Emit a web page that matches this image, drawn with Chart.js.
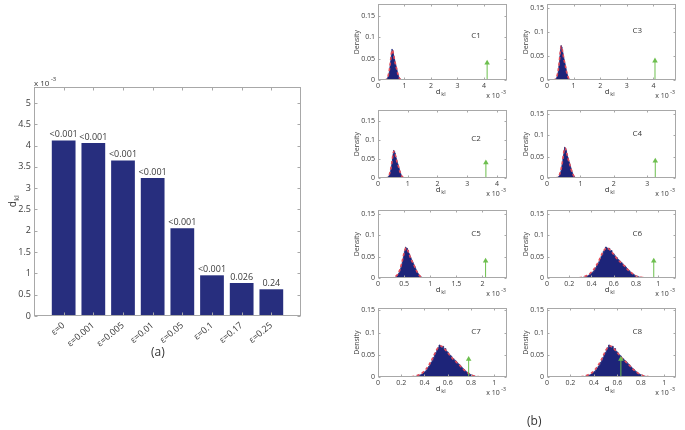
<!DOCTYPE html>
<html><head><meta charset="utf-8">
<script src="https://cdn.jsdelivr.net/npm/chart.js@4"></script>
<style>
html,body{margin:0;padding:0;background:#fff;width:685px;height:430px;overflow:hidden;position:relative;}
canvas{position:absolute;}
.cap{position:absolute;font-family:'Open Sans',sans-serif;font-size:12px;color:#333;line-height:14px;}
</style></head><body>
<canvas id="barA"></canvas>
<canvas id="p0"></canvas><canvas id="p1"></canvas><canvas id="p2"></canvas><canvas id="p3"></canvas>
<canvas id="p4"></canvas><canvas id="p5"></canvas><canvas id="p6"></canvas><canvas id="p7"></canvas>
<div class="cap" style="left:151px;top:345px">(a)</div>
<div class="cap" style="left:527px;top:414px">(b)</div>
<script>
// ---------- DATA ----------
const categories = ['ε=0','ε=0.001','ε=0.005','ε=0.01','ε=0.05','ε=0.1','ε=0.17','ε=0.25'];
const dklValues  = [4.12, 4.06, 3.65, 3.24, 2.06, 0.955, 0.775, 0.627];   // x 10^-3
const pLabels    = ['<0.001','<0.001','<0.001','<0.001','<0.001','<0.001','0.026','0.24'];
const barYTicksMax = 5.375;

const panelNames  = ['C1','C2','C3','C4','C5','C6','C7','C8'];
const observedDkl = [4.12, 3.63, 4.06, 3.24, 2.06, 0.96, 0.78, 0.63];
const panelXMax   = [4.87, 4.34, 4.85, 3.86, 2.47, 1.16, 1.11, 1.10];
const panelXStep  = [1, 1, 1, 1, 0.5, 0.2, 0.2, 0.2];
const panelYMax   = [0.177, 0.177, 0.158, 0.158, 0.158, 0.158, 0.155, 0.155];
const arrowHeight = 0.04;

const nullBins = [0.30,0.31,0.32,0.33,0.34,0.35,0.36,0.37,0.38,0.39,0.40,0.41,0.42,0.43,0.44,0.45,0.46,0.47,0.48,0.49,
  0.50,0.51,0.52,0.53,0.54,0.55,0.56,0.57,0.58,0.59,0.60,0.61,0.62,0.63,0.64,0.65,0.66,0.67,0.68,0.69,
  0.70,0.71,0.72,0.73,0.74,0.75,0.76,0.77,0.78,0.79,0.80,0.81,0.82,0.83,0.84,0.85,0.86];
const nullDensity = [0.0005,0.001,0.001,0.002,0.002,0.003,0.004,0.005,0.007,0.009,0.011,0.013,0.016,0.020,0.024,0.029,0.033,0.038,0.044,0.050,
  0.055,0.062,0.066,0.072,0.070,0.066,0.069,0.063,0.064,0.058,0.056,0.052,0.049,0.047,0.043,0.041,0.038,0.036,0.033,0.030,
  0.028,0.025,0.022,0.019,0.017,0.014,0.012,0.010,0.008,0.006,0.005,0.004,0.003,0.002,0.0015,0.001,0.0005];
const fitX = [0.24,0.26,0.28,0.30,0.32,0.34,0.36,0.38,0.40,0.42,0.44,0.46,0.48,0.50,0.52,0.54,0.56,0.58,0.60,0.62,
  0.64,0.66,0.68,0.70,0.72,0.74,0.76,0.78,0.80,0.82,0.84,0.86,0.88,0.90,0.92,0.94,0.96];
const fitDensity = [0,0,0.0005,0.001,0.002,0.004,0.006,0.009,0.014,0.020,0.028,0.037,0.048,0.059,0.067,0.070,0.067,0.061,0.055,0.048,
  0.042,0.037,0.032,0.027,0.021,0.016,0.012,0.008,0.005,0.003,0.002,0.001,0.0005,0,0,0,0];

// ---------- LAYOUT / STYLE ----------
const FONT = "'Open Sans', sans-serif";
const TXT = '#3a3a3a';
const BOX = '#a8a8a8';
const NAVY = '#272e7e';
const HIST = '#1d2479';
const colLeft = [378, 547];
const rowTop = [1, 107, 207, 305];
const rowH = [79, 71, 71, 72];
const plotW = 129;
const panelPos = [[0,0],[0,1],[1,0],[1,1],[0,2],[1,2],[0,3],[1,3]]; // [col,row]
const labelFrac = [0.76, 0.70];

Chart.defaults.font.family = FONT;
Chart.defaults.color = TXT;
Chart.defaults.animation = false;

function fmt(v){ return String(+(+v).toFixed(4)); }

function drawDkl(ctx, x, y, size, rot) {
  ctx.save();
  ctx.translate(x, y);
  if (rot) ctx.rotate(-Math.PI/2);
  ctx.fillStyle = TXT;
  ctx.font = size + 'px ' + FONT;
  const wd = ctx.measureText('d').width;
  const sub = size * 0.72;
  ctx.font = sub + 'px ' + FONT;
  const wk = ctx.measureText('kl').width;
  const x0 = -(wd + wk) / 2;
  ctx.textAlign = 'left'; ctx.textBaseline = 'alphabetic';
  ctx.font = size + 'px ' + FONT;
  ctx.fillText('d', x0, size * 0.35);
  ctx.font = sub + 'px ' + FONT;
  ctx.fillText('kl', x0 + wd + 0.5, size * 0.35 + size * 0.3);
  ctx.restore();
}
function drawSci(ctx, x, y, size, align) {
  ctx.save();
  ctx.fillStyle = TXT;
  ctx.font = size + 'px ' + FONT;
  const w1 = ctx.measureText('x 10').width;
  const sup = size * 0.75;
  ctx.font = sup + 'px ' + FONT;
  const w2 = ctx.measureText('-3').width;
  const x0 = align === 'right' ? x - (w1 + w2 + 1.5) : x;
  ctx.textAlign = 'left'; ctx.textBaseline = 'alphabetic';
  ctx.font = size + 'px ' + FONT;
  ctx.fillText('x 10', x0, y + size * 0.35);
  ctx.font = sup + 'px ' + FONT;
  ctx.fillText('-3', x0 + w1 + 1.5, y - size * 0.25);
  ctx.restore();
}

const boxPlugin = {
  id: 'mbox',
  afterDraw(chart) {
    const {ctx, chartArea: a, scales} = chart;
    ctx.save();
    ctx.strokeStyle = BOX; ctx.lineWidth = 1;
    const L = Math.round(a.left) + 0.5, R = Math.round(a.right) - 0.5;
    const T = Math.round(a.top) + 0.5, B = Math.round(a.bottom) - 0.5;
    ctx.strokeRect(L, T, R - L, B - T);
    const len = chart.options.plugins.mbox.len;
    ctx.beginPath();
    scales.x.ticks.forEach(t => {
      if (t.label === '') return;
      const px = Math.round(scales.x.getPixelForValue(t.value)) + 0.5;
      ctx.moveTo(px, B); ctx.lineTo(px, B - len);
      ctx.moveTo(px, T); ctx.lineTo(px, T + len);
    });
    scales.y.ticks.forEach(t => {
      const py = Math.round(scales.y.getPixelForValue(t.value)) + 0.5;
      ctx.moveTo(L, py); ctx.lineTo(L + len, py);
      ctx.moveTo(R, py); ctx.lineTo(R - len, py);
    });
    ctx.stroke();
    ctx.restore();
  }
};

// ---------- (a) BAR CHART ----------
(function(){
  const cv = document.getElementById('barA');
  cv.width = 320; cv.height = 310;
  cv.style.left = '0px'; cv.style.top = '60px';
  cv.style.width = '320px'; cv.style.height = '310px';
  const textPlugin = {
    id: 'aText',
    afterDraw(chart) {
      const {ctx, chartArea: a} = chart;
      const meta = chart.getDatasetMeta(0);
      ctx.save();
      ctx.fillStyle = TXT;
      ctx.font = '9px ' + FONT;
      ctx.textAlign = 'center'; ctx.textBaseline = 'alphabetic';
      meta.data.forEach((bar, i) => ctx.fillText(pLabels[i], bar.x, bar.y - 3));
      ctx.restore();
      drawDkl(ctx, 12, (a.top + a.bottom) / 2, 10, true);
      drawSci(ctx, a.left, a.top - 4, 8, 'left');
    }
  };
  new Chart(cv, {
    type: 'bar',
    data: { datasets: [{
      data: categories.map((c, i) => ({x: i + 1, y: dklValues[i]})),
      backgroundColor: NAVY, borderWidth: 0,
      barPercentage: 0.8, categoryPercentage: 1
    }]},
    options: {
      responsive: false, devicePixelRatio: 1, locale: 'en-US',
      layout: { padding: {top: 27, right: 19, left: 0, bottom: 0} },
      plugins: { legend: {display: false}, tooltip: {enabled: false}, mbox: {len: 3} },
      scales: {
        x: { type: 'linear', min: 0, max: 9, offset: false,
             grid: {display: false, drawTicks: false, offset: false}, border: {display: false},
             ticks: { stepSize: 1, autoSkip: false, maxRotation: 40, minRotation: 40, padding: 4,
                      includeBounds: false, font: {size: 9},
                      callback: v => categories[v - 1] || '' },
             afterFit: s => { s.height = 54; } },
        y: { min: 0, max: barYTicksMax,
             grid: {display: false, drawTicks: false}, border: {display: false},
             ticks: { stepSize: 0.5, includeBounds: false, padding: 3, font: {size: 9}, callback: fmt },
             afterFit: s => { s.width = 34; } }
      }
    },
    plugins: [boxPlugin, textPlugin]
  });
})();

// ---------- (b) HISTOGRAM PANELS ----------
panelNames.forEach((name, k) => {
  const [c, r] = panelPos[k];
  const cv = document.getElementById('p' + k);
  const W = 40 + plotW + 12, H = 4 + rowH[r] + 24;
  cv.width = W; cv.height = H;
  cv.style.left = (colLeft[c] - 40) + 'px'; cv.style.top = (rowTop[r] - 4) + 'px';
  cv.style.width = W + 'px'; cv.style.height = H + 'px';
  const pText = {
    id: 'pText',
    afterDraw(chart) {
      const {ctx, chartArea: a, scales} = chart;
      ctx.save();
      ctx.fillStyle = TXT;
      ctx.font = '7px ' + FONT;
      ctx.textAlign = 'center'; ctx.textBaseline = 'middle';
      ctx.translate(19, (a.top + a.bottom) / 2);
      ctx.rotate(-Math.PI / 2);
      ctx.fillText('Density', 0, 0);
      ctx.restore();
      ctx.save();
      ctx.fillStyle = TXT;
      ctx.font = '8px ' + FONT;
      ctx.textAlign = 'center'; ctx.textBaseline = 'middle';
      ctx.fillText(name, a.left + labelFrac[c] * (a.right - a.left), scales.y.getPixelForValue(0.1) - 1);
      ctx.restore();
      drawDkl(ctx, (a.left + a.right) / 2 - 2, a.bottom + 11, 8, false);
      drawSci(ctx, a.right - 1, a.bottom + 16, 7, 'right');
    }
  };
  new Chart(cv, {
    type: 'line',
    data: { datasets: [
      { data: nullBins.map((x, i) => ({x, y: nullDensity[i]})), stepped: 'middle',
        borderColor: HIST, borderWidth: 0.8, backgroundColor: HIST, fill: 'origin',
        pointRadius: 0, order: 3 },
      { data: fitX.map((x, i) => ({x, y: fitDensity[i]})), borderColor: '#e24b58',
        borderWidth: 1.6, borderDash: [3, 2.5], fill: false, pointRadius: 0,
        cubicInterpolationMode: 'monotone', order: 2 },
      { data: [{x: observedDkl[k], y: 0}, {x: observedDkl[k], y: arrowHeight}],
        borderColor: '#6dbf4e', borderWidth: 1, fill: false,
        pointRadius: [0, 3.2], pointStyle: 'triangle', pointBackgroundColor: '#6dbf4e',
        pointBorderColor: '#6dbf4e', pointBorderWidth: 0, order: 1 }
    ]},
    options: {
      responsive: false, devicePixelRatio: 1, locale: 'en-US',
      layout: { padding: {top: 4, right: 12, left: 0, bottom: 0} },
      plugins: { legend: {display: false}, tooltip: {enabled: false}, mbox: {len: 2} },
      scales: {
        x: { type: 'linear', min: 0, max: panelXMax[k],
             grid: {display: false, drawTicks: false}, border: {display: false},
             ticks: { stepSize: panelXStep[k], includeBounds: false, padding: 2, maxRotation: 0,
                      autoSkip: false, font: {size: 7}, callback: fmt },
             afterFit: s => { s.height = 24; } },
        y: { min: 0, max: panelYMax[k],
             grid: {display: false, drawTicks: false}, border: {display: false},
             ticks: { stepSize: 0.05, includeBounds: false, padding: 3, font: {size: 7}, callback: fmt },
             afterFit: s => { s.width = 40; } }
      }
    },
    plugins: [boxPlugin, pText]
  });
});
</script>
</body></html>
